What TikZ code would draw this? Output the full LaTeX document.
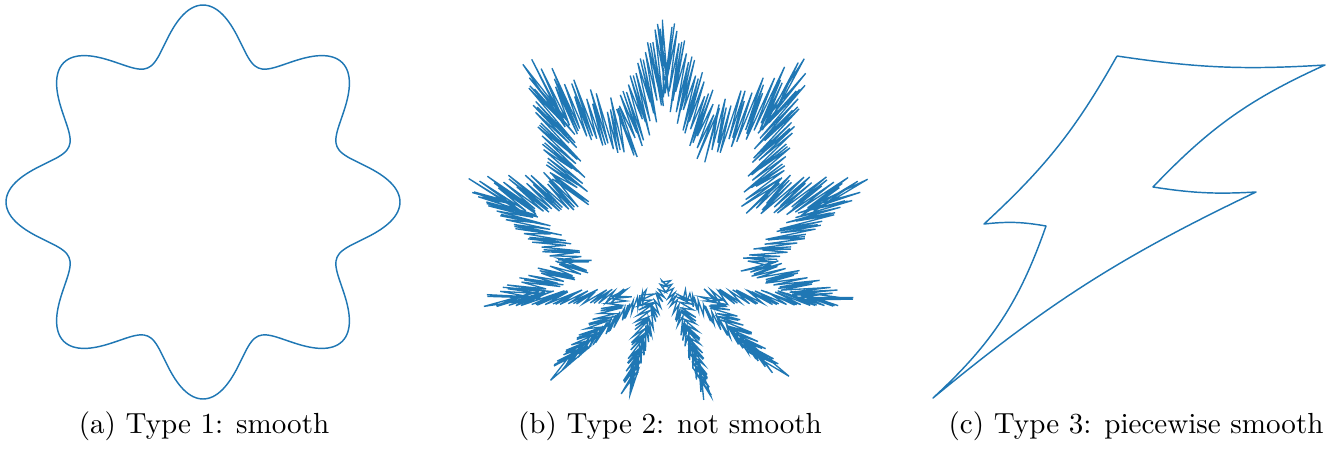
\documentclass[tikz,border=0pt]{standalone}
\usepackage{tikz}
\usetikzlibrary{calc}
\definecolor{tabblue}{RGB}{31,119,180}
\colorlet{curvecol}{tabblue}
\tikzset{
  curveline/.style={curvecol, line width=0.5pt, line join=round},
  needleline/.style={curvecol, line width=0.45pt},
  caption/.style={anchor=base, inner sep=0pt}
}
% leaf centre and spike size for (b)
\newcommand\leafcx{666}
\newcommand\leafcy{278}
\newcommand\spike{0.13}
\newcommand\spikew{4}

\begin{document}
\begin{tikzpicture}[x=0.344pt, y=-0.344pt]
  \useasboundingbox (0,0) rectangle (1333,457);
  % (a) smooth
  \draw[curveline] plot[domain=0:358.5, samples=240, smooth cycle, variable=\t]
    ({203+(171+26*cos(8*\t))*sin(\t)}, {202-(171+26*cos(8*\t))*cos(\t)});
  % (b) not smooth: radial spikes on a leaf outline
  \draw[needleline] (662.5,19.6) \foreach \xa/\ya/\xb/\yb/\m in {
      666/50.3/709.2/132.5/40, 709.2/132.5/784.8/95/34, 784.8/95/763.7/192.8/42,
      763.7/192.8/836/198/34, 836/198/755.8/264.4/46, 755.8/264.4/825.8/299.4/34,
      825.8/299.4/710.3/296.2/48, 710.3/296.2/766.9/362.8/40, 766.9/362.8/684.2/293.9/46,
      684.2/293.9/702.6/384.3/40, 702.6/384.3/666/280.3/46,
      666/280.3/629.4/384.3/46, 629.4/384.3/647.8/293.9/40, 647.8/293.9/565.1/362.8/46,
      565.1/362.8/621.7/296.2/40, 621.7/296.2/506.2/299.4/48, 506.2/299.4/576.2/264.4/34,
      576.2/264.4/496/198/46, 496/198/568.3/192.8/34, 568.3/192.8/547.2/95/42,
      547.2/95/622.8/132.5/34, 622.8/132.5/666/50.3/40}{
    \foreach \k in {1,...,\m}{
      -- ({\leafcx+(\xa+\k/\m*(\xb-\xa)-\leafcx)*(1+cos(180*\k)*\spike*(1+0.35*sin(131*\k+7*\xa)+0.2*sin(47*\k)))
            +cos(180*\k)*\spikew*(\yb-\ya)/veclen(\xb-\xa,\yb-\ya)},
          {\leafcy+(\ya+\k/\m*(\yb-\ya)-\leafcy)*(1+cos(180*\k)*\spike*(1+0.35*sin(131*\k+7*\xa)+0.2*sin(47*\k)))
            -cos(180*\k)*\spikew*(\xb-\xa)/veclen(\xb-\xa,\yb-\ya)})
    }
  } -- cycle;
  % (c) piecewise smooth
  \coordinate (tl) at (1117,56);
  \coordinate (tr) at (1325,65);
  \coordinate (nr) at (1153,187);
  \coordinate (rt) at (1256,192);
  \coordinate (bt) at (933,398);
  \coordinate (nl) at (1046,226);
  \coordinate (lt) at (984,224);
  \draw[curveline] (tl) to[bend right=6] (tr) to[bend right=11] (nr)
    to[bend right=6] (rt) to[bend right=7] (bt) to[bend right=14] (nl)
    to[bend right=8] (lt) to[bend right=9] (tl);
  % captions
  \node[caption] (capA) at (204,433) {(a) Type 1: smooth};
  \node[caption] (capB) at (670,433) {(b) Type 2: not smooth};
  \node[caption] (capC) at (1136,433) {(c) Type 3: piecewise smooth};
\end{tikzpicture}
\end{document}
